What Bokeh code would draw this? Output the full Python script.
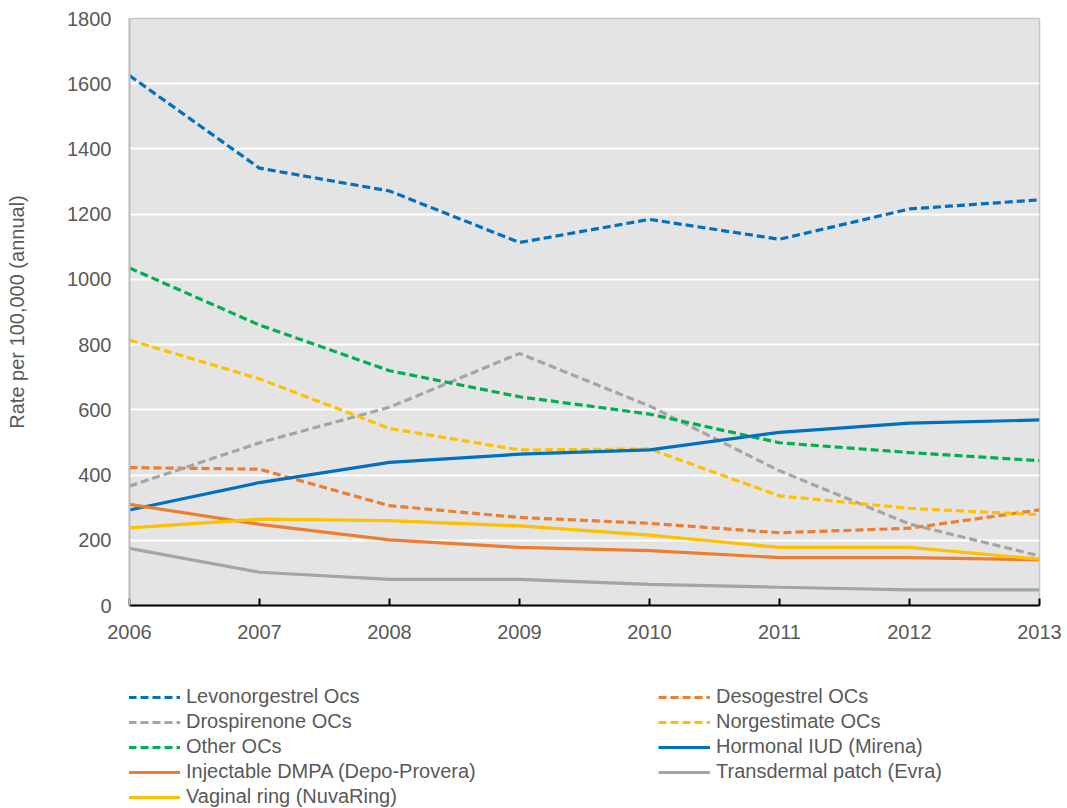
from bokeh.plotting import figure
from bokeh.layouts import column
from bokeh.models import Legend, LegendItem, Range1d, FixedTicker
from bokeh.embed import file_html
from bokeh.resources import INLINE

years = [2006, 2007, 2008, 2009, 2010, 2011, 2012, 2013]

levonorgestrel_ocs = [1625, 1341, 1271, 1113, 1184, 1123, 1216, 1244]
desogestrel_ocs = [423, 418, 306, 270, 252, 223, 237, 293]
drospirenone_ocs = [366, 499, 608, 773, 612, 413, 250, 152]
norgestimate_ocs = [814, 695, 543, 477, 480, 336, 298, 278]
other_ocs = [1035, 860, 720, 640, 587, 499, 469, 444]
hormonal_iud = [293, 377, 439, 464, 477, 531, 559, 569]
injectable_dmpa = [310, 249, 201, 178, 168, 147, 147, 140]
transdermal_patch = [175, 102, 80, 80, 65, 56, 48, 48]
vaginal_ring = [238, 265, 260, 244, 216, 178, 178, 142]

y_ticks = [0, 200, 400, 600, 800, 1000, 1200, 1400, 1600, 1800]

BLUE = "#0070C0"
ORANGE = "#ED7D31"
GRAY = "#A5A5A5"
YELLOW = "#FFC000"
GREEN = "#00B050"
TEXT = "#595959"
FONT = "Liberation Sans"
DASH = "8 4"

series = [
    ("Levonorgestrel Ocs", levonorgestrel_ocs, BLUE, DASH),
    ("Desogestrel OCs", desogestrel_ocs, ORANGE, DASH),
    ("Drospirenone OCs", drospirenone_ocs, GRAY, DASH),
    ("Norgestimate OCs", norgestimate_ocs, YELLOW, DASH),
    ("Other OCs", other_ocs, GREEN, DASH),
    ("Hormonal IUD (Mirena)", hormonal_iud, BLUE, "solid"),
    ("Injectable DMPA (Depo-Provera)", injectable_dmpa, ORANGE, "solid"),
    ("Transdermal patch (Evra)", transdermal_patch, GRAY, "solid"),
    ("Vaginal ring (NuvaRing)", vaginal_ring, YELLOW, "solid"),
]

# ---- main chart ----
p = figure(
    width=1067, height=650,
    output_backend="svg", toolbar_location=None,
    x_range=Range1d(2006, 2013), y_range=Range1d(0, 1800),
    min_border_left=129, min_border_right=28,
    min_border_top=18, min_border_bottom=45,
)
p.background_fill_color = "#E4E4E4"
p.border_fill_color = "white"
p.outline_line_color = "#C8C8C8"
p.outline_line_width = 1.5

p.xgrid.grid_line_color = None
p.ygrid.grid_line_color = "white"
p.ygrid.grid_line_width = 2
p.ygrid.ticker = FixedTicker(ticks=y_ticks)

# x axis: black baseline, short ticks pointing into the plot
p.xaxis.ticker = FixedTicker(ticks=years)
p.xaxis.axis_line_color = "black"
p.xaxis.axis_line_width = 2
p.xaxis.major_tick_line_color = "black"
p.xaxis.major_tick_line_width = 2
p.xaxis.major_tick_in = 7
p.xaxis.major_tick_out = 0
p.xaxis.minor_tick_line_color = None
p.xaxis.major_label_text_font = FONT
p.xaxis.major_label_text_font_size = "20px"
p.xaxis.major_label_text_color = TEXT
p.xaxis.major_label_standoff = 19

# y axis: light line, no ticks
p.yaxis.ticker = FixedTicker(ticks=y_ticks)
p.yaxis.axis_line_color = "#BFBFBF"
p.yaxis.axis_line_width = 2
p.yaxis.major_tick_line_color = None
p.yaxis.minor_tick_line_color = None
p.yaxis.major_label_text_font = FONT
p.yaxis.major_label_text_font_size = "20px"
p.yaxis.major_label_text_color = TEXT
p.yaxis.major_label_standoff = 12
p.yaxis.axis_label = "Rate per 100,000 (annual)"
p.yaxis.axis_label_text_font = FONT
p.yaxis.axis_label_text_font_size = "20px"
p.yaxis.axis_label_text_font_style = "normal"
p.yaxis.axis_label_text_color = TEXT
p.yaxis.axis_label_standoff = 36

for name, vals, color, dash in series:
    p.line(years, vals, line_color=color, line_width=3.2, line_dash=dash)

# ---- legend strip below the chart (frame aligned with the chart's frame) ----
# The strip's own ranges keep its copies of the series out of view;
# only their legend keys are shown.
lg = figure(
    width=1067, height=158,
    output_backend="svg", toolbar_location=None,
    x_range=Range1d(0, 1), y_range=Range1d(0, 1),
    x_axis_location=None, y_axis_location=None,
    min_border=0,
)
lg.outline_line_color = None
lg.background_fill_color = "white"
lg.grid.grid_line_color = None

keys = {}
for name, vals, color, dash in series:
    keys[name] = lg.line(years, vals, line_color=color, line_width=3.2, line_dash=dash)

left_names = ["Levonorgestrel Ocs", "Drospirenone OCs", "Other OCs",
              "Injectable DMPA (Depo-Provera)", "Vaginal ring (NuvaRing)"]
right_names = ["Desogestrel OCs", "Norgestimate OCs",
               "Hormonal IUD (Mirena)", "Transdermal patch (Evra)"]


def make_legend(names, loc):
    return Legend(
        items=[LegendItem(label=n, renderers=[keys[n]]) for n in names],
        location=loc, orientation="vertical",
        padding=0, margin=0, spacing=2,
        glyph_width=52, glyph_height=20, label_height=20,
        label_standoff=6,
        label_text_font=FONT, label_text_font_size="20px",
        label_text_color=TEXT,
        border_line_color=None, background_fill_alpha=0,
    )


lg.add_layout(make_legend(left_names, (-1, 0)))
lg.add_layout(make_legend(right_names, (529, 25)))

open("out.html", "w").write(file_html(column(p, lg, spacing=0), INLINE))
